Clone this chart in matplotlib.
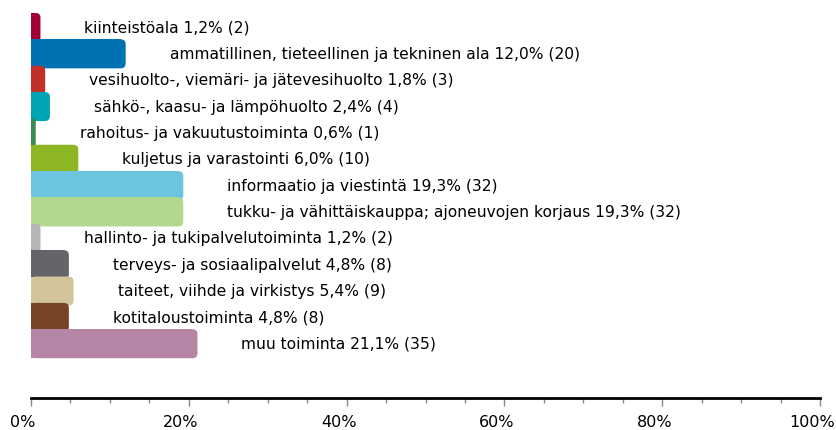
import matplotlib
matplotlib.use("Agg")
import matplotlib.pyplot as plt
import matplotlib.transforms as mtransforms
from matplotlib.patches import FancyBboxPatch, Rectangle
from matplotlib.ticker import MultipleLocator, FuncFormatter

# toimialat, osuudet (%) ja lukumäärät
categories = [
    "kiinteistöala",
    "ammatillinen, tieteellinen ja tekninen ala",
    "vesihuolto-, viemäri- ja jätevesihuolto",
    "sähkö-, kaasu- ja lämpöhuolto",
    "rahoitus- ja vakuutustoiminta",
    "kuljetus ja varastointi",
    "informaatio ja viestintä",
    "tukku- ja vähittäiskauppa; ajoneuvojen korjaus",
    "hallinto- ja tukipalvelutoiminta",
    "terveys- ja sosiaalipalvelut",
    "taiteet, viihde ja virkistys",
    "kotitaloustoiminta",
    "muu toiminta",
]
percents = [1.2, 12.0, 1.8, 2.4, 0.6, 6.0, 19.3, 19.3, 1.2, 4.8, 5.4, 4.8, 21.1]
counts = [2, 20, 3, 4, 1, 10, 32, 32, 2, 8, 9, 8, 35]
colors = ["#a3003a", "#0071b3", "#c1312a", "#00a5b5", "#3b8a52", "#8cb623",
          "#6cc4df", "#b4d790", "#b5b5b5", "#646569", "#d3c49b", "#784428", "#b585a5"]

W, H = 837, 430
fig = plt.figure(figsize=(W / 100, H / 100), dpi=100)
ax = fig.add_axes([31 / W, (H - 398) / H, 789 / W, 398 / H])

bar_h = 1.1
px_x = 100 / 789          # % per pixel
px_y = 1 / 26.35          # category units per pixel
r = 5 * px_x              # rounding radius (x units)
aspect = px_y / px_x

for i, (p, c) in enumerate(zip(percents, colors)):
    y0 = i - bar_h / 2
    rr = min(r, p / 2)
    box = FancyBboxPatch((0, y0), p, bar_h,
                         boxstyle=f"round,pad=0,rounding_size={rr}",
                         mutation_aspect=aspect, fc=c, ec="none", zorder=2 + i)
    ax.add_patch(box)
    ax.add_patch(Rectangle((0, y0), max(p - rr, 0), bar_h, fc=c, ec="none", zorder=2 + i))
    txt = f"{categories[i]} {str(p).replace('.', ',')}% ({counts[i]})"
    ax.text(p + 44 * px_x, i + 0.02, txt, va="center", ha="left", fontsize=11.2,
            color="#000000", zorder=30)

ax.set_xlim(0, 100)
ax.set_ylim(14.06, -1.044)
ax.xaxis.set_major_locator(MultipleLocator(20))
ax.xaxis.set_minor_locator(MultipleLocator(5))
ax.xaxis.set_major_formatter(FuncFormatter(lambda v, pos: f"{v:.0f}%"))
ax.tick_params(axis="x", which="major", length=6, width=1, color="#888888",
               labelsize=11.5, pad=6)
ax.tick_params(axis="x", which="minor", length=3.6, width=1, color="#888888")
shift = mtransforms.ScaledTranslation(-8 / 100, 0, fig.dpi_scale_trans)
for lab in ax.get_xticklabels():
    lab.set_transform(lab.get_transform() + shift)
ax.set_yticks([])
for s in ["top", "right", "left"]:
    ax.spines[s].set_visible(False)
ax.spines["bottom"].set_linewidth(2)
ax.spines["bottom"].set_color("black")
ax.patch.set_alpha(0)

fig.savefig("out.png", dpi=100)
